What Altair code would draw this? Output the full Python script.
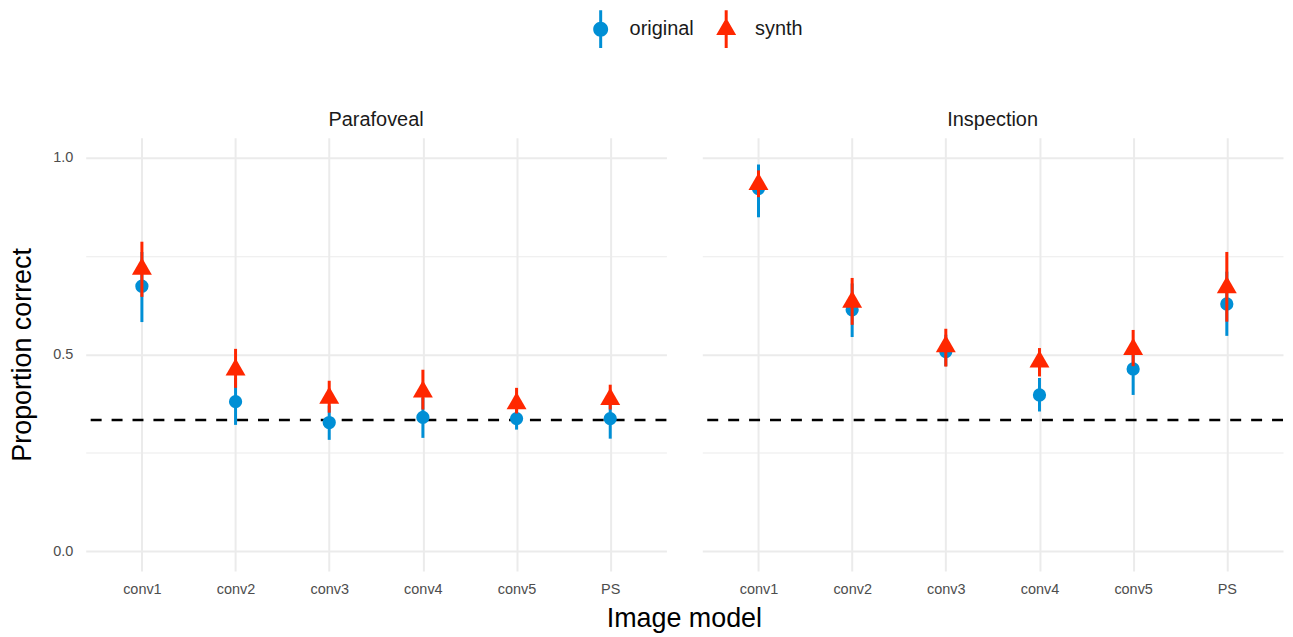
import altair as alt
import pandas as pd

models = ["conv1", "conv2", "conv3", "conv4", "conv5", "PS"]
panels = ["Parafoveal", "Inspection"]
types = ["original", "synth"]
colors = ["#008FD5", "#FF2700"]
CHANCE = 1 / 3

# Parafoveal
para_orig_mean = [0.673, 0.380, 0.327, 0.340, 0.337, 0.337]
para_orig_lo = [0.582, 0.321, 0.283, 0.288, 0.309, 0.286]
para_orig_hi = [0.760, 0.440, 0.370, 0.390, 0.365, 0.390]
para_syn_mean = [0.717, 0.461, 0.389, 0.405, 0.375, 0.386]
para_syn_lo = [0.646, 0.415, 0.352, 0.360, 0.350, 0.360]
para_syn_hi = [0.786, 0.514, 0.433, 0.461, 0.415, 0.423]
# Inspection
insp_orig_mean = [0.921, 0.613, 0.507, 0.397, 0.463, 0.628]
insp_orig_lo = [0.848, 0.544, 0.470, 0.355, 0.397, 0.547]
insp_orig_hi = [0.982, 0.680, 0.550, 0.440, 0.530, 0.710]
insp_syn_mean = [0.932, 0.633, 0.520, 0.481, 0.513, 0.670]
insp_syn_lo = [0.899, 0.575, 0.469, 0.444, 0.470, 0.583]
insp_syn_hi = [0.967, 0.694, 0.565, 0.516, 0.562, 0.760]

series = {
    ("Parafoveal", "original"): (para_orig_mean, para_orig_lo, para_orig_hi),
    ("Parafoveal", "synth"): (para_syn_mean, para_syn_lo, para_syn_hi),
    ("Inspection", "original"): (insp_orig_mean, insp_orig_lo, insp_orig_hi),
    ("Inspection", "synth"): (insp_syn_mean, insp_syn_lo, insp_syn_hi),
}
rows = []
for (panel, typ), (m, lo, hi) in series.items():
    for i, mod in enumerate(models):
        rows.append({"panel": panel, "type": typ, "model": mod,
                     "mean": m[i], "lo": lo[i], "hi": hi[i]})
df = pd.DataFrame(rows)

FONT = "Liberation Sans"
GRID = "#EBEBEB"

# point shapes (ggplot-like triangle) and legend keys with a vertical line through
TRI = "M0,-1L0.866,0.5L-0.866,0.5Z"
LEG_CIRCLE = ("M-0.079,-1L0.079,-1L0.079,1L-0.079,1Z "
              "M-0.395,0A0.395,0.395,0,1,1,0.395,0A0.395,0.395,0,1,1,-0.395,0Z")
LEG_TRI = ("M-0.079,-1L0.079,-1L0.079,1L-0.079,1Z "
           "M0,-0.608L0.526,0.304L-0.526,0.304Z")

xdef = alt.X("model:N", sort=models, title=None,
             scale=alt.Scale(type="point", padding=0.6),
             axis=alt.Axis(grid=True, gridColor=GRID, gridWidth=2, ticks=False,
                           domain=False, labelAngle=0, labelFontSize=14.5,
                           labelColor="#4D4D4D", labelPadding=12, labelFont=FONT))


def ydef(field):
    return alt.Y(field, title="Proportion correct",
                 scale=alt.Scale(domain=[-0.05, 1.05], nice=False, zero=False),
                 axis=alt.Axis(values=[0, 0.25, 0.5, 0.75, 1.0],
                               labelExpr="datum.value % 0.5 == 0 ? format(datum.value, '.1f') : ''",
                               grid=True, gridColor=GRID,
                               gridWidth={"condition": {"test": "datum.value == 0.25 || datum.value == 0.75",
                                                        "value": 1.2}, "value": 2},
                               ticks=False, domain=False, labelFontSize=14.5,
                               labelColor="#4D4D4D", labelPadding=11, labelFont=FONT,
                               titleFontSize=27, titleFontWeight="normal", titleColor="black",
                               titleFont=FONT, titlePadding=16))


chance = alt.Chart().mark_rule(color="black", strokeWidth=2.5, strokeDash=[11, 10]).encode(
    y=alt.datum(CHANCE)
).transform_filter(alt.datum.model == models[0]).transform_filter(alt.datum.type == types[0])

layers = [chance]
shapes = ["circle", TRI]
sizes = [177, 533]
for t, c, shp, sz in zip(types, colors, shapes, sizes):
    rule = alt.Chart().mark_rule(color=c, strokeWidth=3).encode(
        x=xdef, y=ydef("lo:Q"), y2="hi:Q"
    ).transform_filter(alt.datum.type == t)
    pts = alt.Chart().mark_point(shape=shp, filled=True, size=sz, color=c, opacity=1).encode(
        x=xdef, y=ydef("mean:Q")
    ).transform_filter(alt.datum.type == t)
    layers += [rule, pts]

legend_layer = alt.Chart().mark_point(filled=True, opacity=1).encode(
    x=xdef, y=ydef("mean:Q"),
    color=alt.Color("type:N", scale=alt.Scale(domain=types, range=colors),
                    legend=alt.Legend(orient="none", legendX=498, legendY=-128,
                                      direction="horizontal", title=None,
                                      symbolSize=1444, symbolStrokeWidth=0,
                                      labelFontSize=20, labelFont=FONT, labelColor="#1A1A1A",
                                      labelOffset=10, columnPadding=13)),
    shape=alt.Shape("type:N", scale=alt.Scale(domain=types, range=[LEG_CIRCLE, LEG_TRI])),
).transform_filter("false")
layers.append(legend_layer)

base = alt.layer(*layers, data=df).properties(width=583, height=435)

chart = base.facet(
    column=alt.Column("panel:N", sort=panels, title="Image model",
                      header=alt.Header(labelOrient="top", titleOrient="bottom",
                                        labelFontSize=20, labelFont=FONT, labelColor="#1A1A1A",
                                        labelPadding=8,
                                        titleFontSize=27, titleFont=FONT, titleColor="black",
                                        titleFontWeight="normal", titlePadding=-1)),
    spacing=32,
).properties(
    padding={"left": 0, "top": 1, "right": 0, "bottom": 0}
).configure(font=FONT).configure_view(stroke="transparent", strokeWidth=0)

chart.save("out.html", embed_options={"renderer": "svg", "actions": False})
